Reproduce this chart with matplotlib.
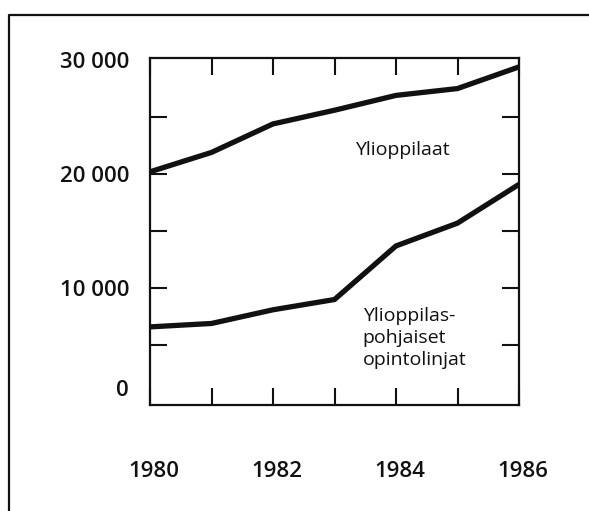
import numpy as np
import matplotlib
matplotlib.use("Agg")
import matplotlib.pyplot as plt
import matplotlib.transforms as mtransforms
from matplotlib.lines import Line2D

# data
vuodet = [1980, 1981, 1982, 1983, 1984, 1985, 1986]
ylioppilaat = [20200, 21900, 24400, 25600, 26900, 27500, 29400]
opintolinjat = [6600, 6900, 8100, 9000, 13700, 15700, 19100]

x_labels = [1980, 1982, 1984, 1986]
y_ticks = [0, 10000, 20000, 30000]
y_labels = ['0', '10 000', '20 000', '30 000']

plt.rcParams['font.family'] = ['Open Sans', 'DejaVu Sans']
ink = '#111111'

fig = plt.figure(figsize=(5.89, 5.11), dpi=100)
ax = fig.add_axes([150/589, 1-405/511, 369/589, 347/511])

ax.plot(vuodet, ylioppilaat, color=ink, lw=3.8, solid_capstyle='butt', solid_joinstyle='miter')
ax.plot(vuodet, opintolinjat, color=ink, lw=3.8, solid_capstyle='butt', solid_joinstyle='miter')

ax.set_xlim(1980, 1986)
ax.set_ylim(-250, 30180)

ax.set_xticks(x_labels)
ax.set_xticklabels([str(v) for v in x_labels])
ax.set_xticks([1981, 1983, 1985], minor=True)
ax.set_yticks(y_ticks)
ax.set_yticklabels(y_labels)
ax.set_yticks([5000, 15000, 25000], minor=True)

ax.tick_params(which='both', direction='in', length=12, width=1.5, color=ink,
               top=True, right=True)
ax.tick_params(axis='x', which='major', pad=40, labelsize=16, colors=ink)
ax.tick_params(axis='y', which='major', pad=15, labelsize=16, colors=ink)
for lab in ax.get_xticklabels() + ax.get_yticklabels():
    lab.set_fontweight('semibold')

# no separate tick marks at y=0 / y=30000, the frame is there
for t in (ax.yaxis.get_major_ticks()[0], ax.yaxis.get_major_ticks()[-1]):
    t.tick1line.set_visible(False)
    t.tick2line.set_visible(False)

# year labels sit a little to the right of their ticks in the scan
siirto = mtransforms.ScaledTranslation(4/100, 0, fig.dpi_scale_trans)
for lab in ax.get_xticklabels():
    lab.set_transform(lab.get_transform() + siirto)

# the "0" label sits a bit above the axis in the original
nolla = ax.get_yticklabels()[0]
nolla.set_transform(nolla.get_transform() + mtransforms.ScaledTranslation(0, 14/100, fig.dpi_scale_trans))

for s in ax.spines.values():
    s.set_linewidth(1.6)
    s.set_color(ink)

ax.text(1983.33, 22100, 'Ylioppilaat', fontsize=14, color=ink, va='center', ha='left')
ax.text(1983.46, 8350, 'Ylioppilas-\npohjaiset\nopintolinjat', fontsize=14, color=ink,
        va='top', ha='left', linespacing=1.3)

# outer frame of the scanned page
fig.add_artist(Line2D([9/589, 9/589, 1.0], [0.0, 1-15/511, 1-15/511],
                      transform=fig.transFigure, color=ink, lw=1.6))

fig.savefig('out.png', dpi=100)
